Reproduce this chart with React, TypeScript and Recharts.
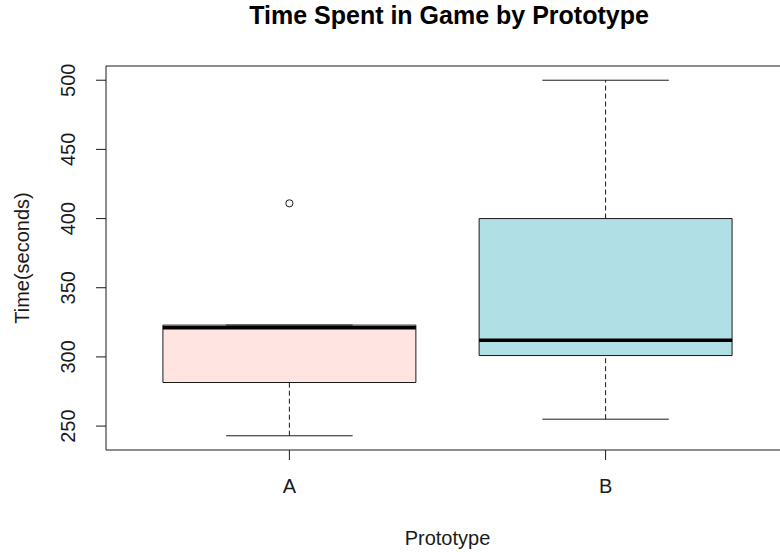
import { ComposedChart, XAxis, YAxis, Scatter, ReferenceArea, ReferenceLine } from 'recharts';

const prototypes = ['A', 'B'];
const lowerWhisker = [243, 255];
const q1 = [281.5, 301];
const medians = [321, 312];
const q3 = [323, 400];
const upperWhisker = [323, 500];
const outlierGroup = [1];
const outlierValue = [411];
const yTicks = [250, 300, 350, 400, 450, 500];

const fills = ['#FFE4E1', '#B0E0E6'];
const FONT = '"Liberation Sans", Arial, sans-serif';
const INK = '#1a1a1a';

// R style plot region: x 0.42..2.58, y padded 4% past the data range
const X_DOMAIN: [number, number] = [0.42, 2.58];
const Y_DOMAIN: [number, number] = [232.72, 510.28];

const outliers = outlierGroup.map((g, i) => ({ x: g, y: outlierValue[i] }));

const XTick = (props: any) => {
  const { x, y, payload } = props;
  return (
    <text x={x} y={y + 33} textAnchor="middle" fontSize={20} fill={INK} fontFamily={FONT}>
      {prototypes[payload.value - 1]}
    </text>
  );
};

const YTick = (props: any) => {
  const { x, y, payload } = props;
  const tx = x - 21;
  return (
    <text x={tx} y={y} textAnchor="middle" fontSize={20} fill={INK} fontFamily={FONT} transform={`rotate(-90, ${tx}, ${y})`}>
      {payload.value}
    </text>
  );
};

const OpenCircle = (props: any) => (
  <circle cx={props.cx} cy={props.cy} r={3.6} fill="none" stroke={INK} strokeWidth={1} />
);

export default function App() {
  return (
    <div style={{ position: 'absolute', left: 0, top: 0, width: 780, height: 552, overflow: 'hidden', background: '#fff' }}>
      <div
        style={{
          position: 'absolute',
          left: 449,
          top: 3,
          transform: 'translateX(-50%)',
          whiteSpace: 'nowrap',
          fontFamily: FONT,
          fontWeight: 'bold',
          fontSize: 25,
          lineHeight: '25px',
          color: '#000',
        }}
      >
        Time Spent in Game by Prototype
      </div>
      <ComposedChart width={800} height={552} data={outliers} margin={{ top: 66, right: 11, bottom: 0, left: 0 }}>
        <XAxis
          type="number"
          dataKey="x"
          domain={X_DOMAIN}
          allowDataOverflow
          ticks={[1, 2]}
          tick={<XTick />}
          tickSize={10}
          tickMargin={0}
          tickLine={{ stroke: INK }}
          axisLine={false}
          height={102}
          label={{
            content: ({ viewBox }: any) => (
              <text x={viewBox.x + viewBox.width / 2} y={545} textAnchor="middle" fontSize={20} fill={INK} fontFamily={FONT}>
                Prototype
              </text>
            ),
          }}
        />
        <YAxis
          type="number"
          dataKey="y"
          domain={Y_DOMAIN}
          allowDataOverflow
          ticks={yTicks}
          tick={<YTick />}
          tickSize={10}
          tickMargin={0}
          tickLine={{ stroke: INK }}
          axisLine={false}
          width={106}
          label={{
            content: ({ viewBox }: any) => {
              const cy = viewBox.y + viewBox.height / 2;
              return (
                <text x={29} y={cy} textAnchor="middle" fontSize={20} fill={INK} fontFamily={FONT} transform={`rotate(-90, 29, ${cy})`}>
                  Time(seconds)
                </text>
              );
            },
          }}
        />
        {prototypes.map((p, i) => (
          <ReferenceArea
            key={'box' + p}
            x1={i + 1 - 0.4}
            x2={i + 1 + 0.4}
            y1={q1[i]}
            y2={q3[i]}
            fill={fills[i]}
            fillOpacity={1}
            stroke={INK}
            strokeWidth={1}
          />
        ))}
        {prototypes.map((p, i) => (
          <ReferenceLine
            key={'wu' + p}
            segment={[{ x: i + 1, y: q3[i] }, { x: i + 1, y: upperWhisker[i] }]}
            stroke={INK}
            strokeDasharray="5 3"
          />
        ))}
        {prototypes.map((p, i) => (
          <ReferenceLine
            key={'wl' + p}
            segment={[{ x: i + 1, y: lowerWhisker[i] }, { x: i + 1, y: q1[i] }]}
            stroke={INK}
            strokeDasharray="5 3"
          />
        ))}
        {prototypes.map((p, i) => (
          <ReferenceLine
            key={'cu' + p}
            segment={[{ x: i + 1 - 0.2, y: upperWhisker[i] }, { x: i + 1 + 0.2, y: upperWhisker[i] }]}
            stroke={INK}
          />
        ))}
        {prototypes.map((p, i) => (
          <ReferenceLine
            key={'cl' + p}
            segment={[{ x: i + 1 - 0.2, y: lowerWhisker[i] }, { x: i + 1 + 0.2, y: lowerWhisker[i] }]}
            stroke={INK}
          />
        ))}
        {prototypes.map((p, i) => (
          <ReferenceLine
            key={'md' + p}
            segment={[{ x: i + 1 - 0.4, y: medians[i] }, { x: i + 1 + 0.4, y: medians[i] }]}
            stroke="#000"
            strokeWidth={3.5}
          />
        ))}
        <Scatter data={outliers} dataKey="y" shape={<OpenCircle />} isAnimationActive={false} />
        {/* plot frame */}
        <ReferenceArea x1={X_DOMAIN[0]} x2={X_DOMAIN[1]} y1={Y_DOMAIN[0]} y2={Y_DOMAIN[1]} fill="none" stroke={INK} strokeWidth={1} />
      </ComposedChart>
    </div>
  );
}
